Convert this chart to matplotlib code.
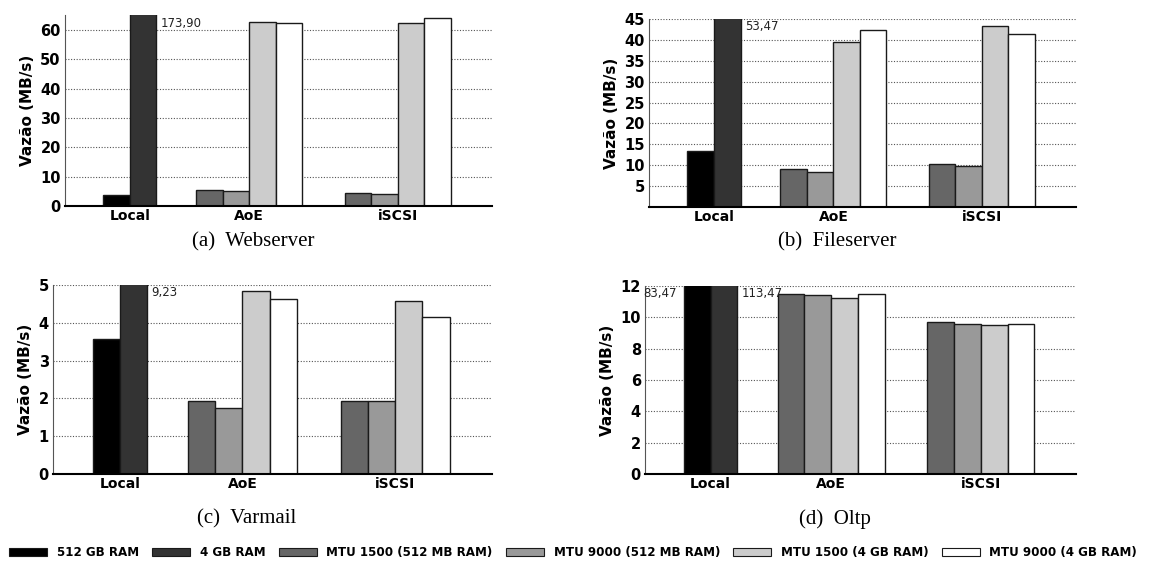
import matplotlib
matplotlib.use("Agg")
import matplotlib.pyplot as plt
from matplotlib.patches import Patch
import numpy as np

categories = ["Local", "AoE", "iSCSI"]
series = ["512 GB RAM", "4 GB RAM", "MTU 1500 (512 MB RAM)", "MTU 9000 (512 MB RAM)",
          "MTU 1500 (4 GB RAM)", "MTU 9000 (4 GB RAM)"]

# Local -> first two series, AoE / iSCSI -> last four series
web_local = [3.75, 173.90]
web_aoe = [5.3, 5.0, 62.6, 62.3]
web_iscsi = [4.3, 4.0, 62.2, 64.0]

file_local = [13.4, 53.47]
file_aoe = [9.0, 8.3, 39.6, 42.3]
file_iscsi = [10.4, 9.8, 43.2, 41.5]

var_local = [3.57, 9.23]
var_aoe = [1.92, 1.76, 4.83, 4.63]
var_iscsi = [1.92, 1.92, 4.57, 4.16]

oltp_local = [83.47, 113.47]
oltp_aoe = [11.51, 11.45, 11.26, 11.49]
oltp_iscsi = [9.69, 9.60, 9.54, 9.58]

colors = ["#000000", "#333333", "#666666", "#999999", "#cccccc", "#ffffff"]
group_pos = [2.45, 6.95, 12.55]
bar_w = 1.0
bold = {"family": "DejaVu Sans", "weight": "bold"}


def draw(ax, local, aoe, iscsi, ymax, yticks):
    groups = [(local, 0), (aoe, 2), (iscsi, 2)]
    for (vals, first), center in zip(groups, group_pos):
        offs = np.arange(len(vals)) - (len(vals) - 1) / 2
        for i, (o, v) in enumerate(zip(offs, vals)):
            x = center + o * bar_w
            ax.bar(x, v, width=bar_w, color=colors[first + i], edgecolor="#1a1a1a",
                   linewidth=1.0, zorder=2)
            if v > ymax:
                txt = f"{v:.2f}".replace(".", ",")
                if i == 0:
                    ax.annotate(txt, xy=(x - bar_w / 2, ymax), xytext=(-5, -1),
                                textcoords="offset points", ha="right", va="top",
                                fontsize=8.5, color="#222222")
                else:
                    ax.annotate(txt, xy=(x + bar_w / 2, ymax), xytext=(3, -1),
                                textcoords="offset points", ha="left", va="top",
                                fontsize=8.5, color="#222222")
    ax.set_xlim(0, 16.1)
    ax.set_ylim(0, ymax)
    ax.set_yticks(yticks)
    ax.set_xticks(group_pos)
    ax.set_xticklabels(categories, fontdict=bold, fontsize=10)
    for lab in ax.get_yticklabels():
        lab.set_fontweight("bold")
        lab.set_fontsize(10.5)
    ax.tick_params(length=0, pad=3)
    ax.tick_params(axis="x", pad=2)
    ax.set_ylabel("Vazão (MB/s)", fontdict=bold, fontsize=11)
    ax.yaxis.grid(True, linestyle=(0, (1, 1.5)), color="#555555", linewidth=0.8)
    ax.set_axisbelow(True)
    for s in ("top", "right"):
        ax.spines[s].set_visible(False)
    ax.spines["left"].set_color("#555555")
    ax.spines["left"].set_linewidth(0.8)
    ax.spines["bottom"].set_linewidth(1.5)


fig = plt.figure(figsize=(11.52, 5.63), dpi=100)

ax_a = fig.add_axes([0.0564, 0.634, 0.3707, 0.339])
draw(ax_a, web_local, web_aoe, web_iscsi, 65, range(0, 61, 10))

ax_b = fig.add_axes([0.5634, 0.6323, 0.3707, 0.334])
draw(ax_b, file_local, file_aoe, file_iscsi, 45, range(5, 46, 5))

ax_c = fig.add_axes([0.046, 0.158, 0.381, 0.3357])
draw(ax_c, var_local, var_aoe, var_iscsi, 5, range(0, 6))

ax_d = fig.add_axes([0.560, 0.158, 0.374, 0.334])
draw(ax_d, oltp_local, oltp_aoe, oltp_iscsi, 12, range(0, 13, 2))

cap = {"family": "Liberation Serif", "fontsize": 15, "ha": "center", "va": "center"}
fig.text(0.2196, 0.57, "(a)  Webserver", **cap)
fig.text(0.7266, 0.57, "(b)  Fileserver", **cap)
fig.text(0.2144, 0.078, "(c)  Varmail", **cap)
fig.text(0.7248, 0.078, "(d)  Oltp", **cap)

handles = [Patch(facecolor=c, edgecolor="#1a1a1a", linewidth=0.8) for c in colors]
fig.legend(handles, series, loc="center", bbox_to_anchor=(0.4975, 0.018), ncol=6,
           frameon=False, prop={"family": "DejaVu Sans", "weight": "bold", "size": 8.6},
           handlelength=3.2, handleheight=0.65, handletextpad=0.8, columnspacing=1.1)

fig.savefig("out.png", dpi=100)
